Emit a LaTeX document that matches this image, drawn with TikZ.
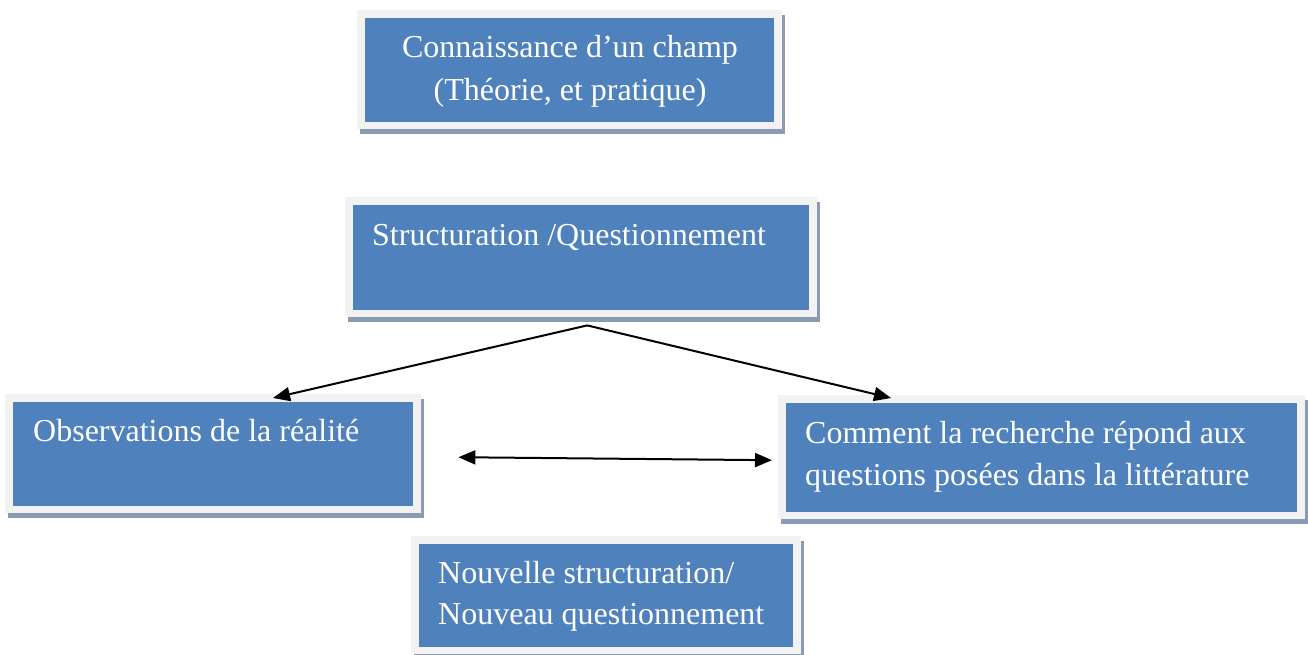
\documentclass[tikz,border=0pt]{standalone}
\usepackage{fontspec}
\setmainfont{Liberation Serif}
\usetikzlibrary{arrows.meta,calc,backgrounds}

\definecolor{boxblue}{HTML}{4F81BD}
\definecolor{framegray}{HTML}{F2F2F2}
\definecolor{shadowblue}{RGB}{140,155,180}

\tikzset{
  panel/.style={fill=boxblue, draw=none, inner sep=0pt, anchor=north west},
  boxtext/.style={text=white, font=\fontsize{32}{43}\selectfont, inner sep=0pt},
  tip/.tip={Triangle[length=17pt,width=14pt]},
  link/.style={line width=2pt, -tip},
  twoway/.style={line width=2pt, tip-tip},
}

% blue panel with a light frame and a drop shadow behind it
\newcommand\panelbox[5]{%
  \node[panel, minimum width={#4-#2}, minimum height={#5-#3}] (#1) at (#2,#3) {};
  \begin{scope}[on background layer]
    \fill[shadowblue] ($(#1.north west)+(-5,-3)$) rectangle ($(#1.south east)+(11,12)$);
    \fill[framegray] ($(#1.north west)+(-8,-8)$) rectangle ($(#1.south east)+(8,7)$);
  \end{scope}}

\begin{document}
\begin{tikzpicture}[x=1pt,y=-1pt]
  \useasboundingbox (0,0) rectangle (1308,654);

  \panelbox{b1}{365}{18}{774}{122}
  \panelbox{b2}{353}{205}{809}{310}
  \panelbox{b3}{13}{402}{413}{506}
  \panelbox{b4}{419}{544}{793}{647}
  \panelbox{b5}{786}{403}{1297}{512}

  \node[boxtext, anchor=base] (t1a) at (570,57) {Connaissance d’un champ};
  \node[boxtext, anchor=base] (t1b) at (570,100) {(Théorie, et pratique)};
  \node[boxtext, anchor=base west] (t2) at (372,245) {Structuration /Questionnement};
  \node[boxtext, anchor=base west] (t3) at (33,441) {Observations de la réalité};
  \node[boxtext, anchor=base west] (t4a) at (438,583) {Nouvelle structuration/};
  \node[boxtext, anchor=base west] (t4b) at (438,624) {Nouveau questionnement};
  \node[boxtext, anchor=base west] (t5a) at (805,443) {Comment la recherche répond aux};
  \node[boxtext, anchor=base west] (t5b) at (805,485) {questions posées dans la littérature};

  % connectors
  \coordinate (fork) at ($(b2.south)+(6,15)$);
  \draw[link] (fork) -- ($(b3.north west)+(260,-4)$);
  \draw[link] (fork) -- ($(b5.north west)+(105,-5)$);
  \draw[twoway] ($(b3.east)+(45,3)$) -- ($(b5.west)+(-14,2.5)$);
\end{tikzpicture}
\end{document}
